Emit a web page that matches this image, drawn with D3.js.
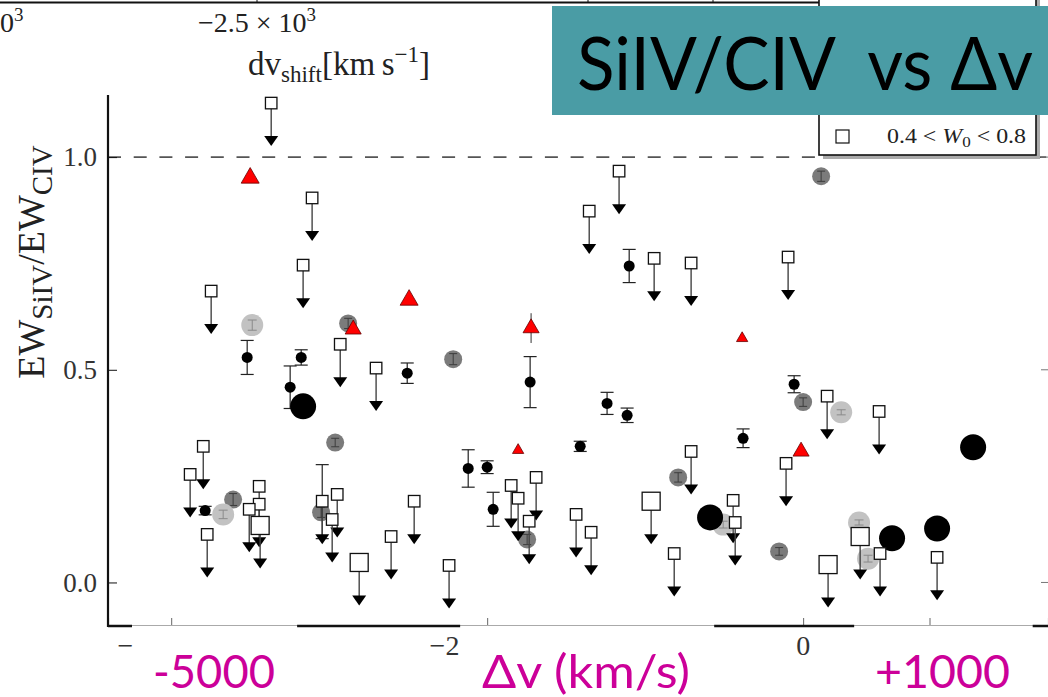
<!DOCTYPE html>
<html>
<head>
<meta charset="utf-8">
<script src="https://cdn.jsdelivr.net/npm/d3@7"></script>
<style>
  body { margin: 0; background: #fff; }
  svg { display: block; }
</style>
</head>
<body>
<div id="chart"></div>
<script>
//Sizes
var width = 1048, height = 697;

//Axis ticks and labels (velocity in 10^3 km/s)
var xTicks = [-4, -2, 0, 0.8];
var xTickLabelPos = [-4.29, -2.27, 0];
var xTickLabelText = ["\u2212", "\u22122", "0"];
var yTicks = [0, 0.5, 1.0];

//Upper limits, small open squares
var limX = [-3.367, -3.108, -3.165, -3.747, -2.930, -2.703, -1.165, -1.354, -0.943, -0.709,
            -0.095, 0.152, 0.481, -0.443, -0.430, -0.108, 0.487, 0.848, -3.797, -3.880,
            -3.772, -3.443, -3.443, -3.506, -3.044, -2.949, -2.981, -2.608, -2.462, -2.241,
            -1.848, -1.690, -1.804, -1.734, -1.437, -1.342, -0.816, -0.709];
var limY = [1.127, 0.904, 0.746, 0.685, 0.560, 0.504, 0.967, 0.873, 0.762, 0.751,
            0.765, 0.438, 0.402, 0.193, 0.141, 0.280, 0.068, 0.059, 0.320, 0.254,
            0.113, 0.226, 0.184, 0.172, 0.191, 0.207, 0.148, 0.108, 0.191, 0.040,
            0.228, 0.247, 0.198, 0.144, 0.160, 0.118, 0.068, 0.308];
//Upper limits, large open squares
var limBigX = [-3.437, -2.810, -0.962, 0.158, 0.361];
var limBigY = [0.134, 0.047, 0.191, 0.042, 0.108];

//Detections, small black points with errors
var detX = [-3.519, -3.177, -3.247, -2.506, -1.728, -1.101, -1.241, -1.114, -1.411, -2.120,
            -2.000, -1.962, -0.057, -0.380, -3.785, -3.044];
var detY = [0.529, 0.529, 0.459, 0.492, 0.471, 0.744, 0.421, 0.393, 0.320, 0.268,
            0.271, 0.172, 0.466, 0.339, 0.169, 0.190];
var detErr = [0.040, 0.018, 0.050, 0.024, 0.060, 0.039, 0.026, 0.017, 0.012, 0.044,
              0.015, 0.040, 0.020, 0.022, 0.010, 0.087];

//Large black points
var bigX = [-3.165, -0.589, 0.563, 0.848, 1.076];
var bigY = [0.414, 0.153, 0.104, 0.127, 0.318];

//Grey points
var grayX = [-2.880, -2.215, -2.962, -3.608, -3.051, -1.747, -0.791, 0.000, -0.152, 0.114];
var grayY = [0.609, 0.525, 0.329, 0.195, 0.165, 0.101, 0.247, 0.424, 0.073, 0.955];
var grayErr = [0.012, 0.013, 0.010, 0.014, 0.012, 0.012, 0.011, 0.010, 0.009, 0.012];

//Light grey points
var lgrayX = [-3.487, -3.671, 0.241, -0.506, 0.354, 0.411];
var lgrayY = [0.605, 0.160, 0.400, 0.136, 0.141, 0.056];
var lgrayErr = [0.012, 0.010, 0.006, 0.008, 0.006, 0.008];

//Red triangles (bin: 0 small, 1 medium, 2 large)
var triX = [-3.500, -2.494, -2.848, -1.722, -0.386, -1.804, -0.013];
var triY = [0.951, 0.664, 0.595, 0.598, 0.574, 0.311, 0.308];
var triBin = [2, 2, 1, 1, 0, 0, 1];
var triErr = [0, 0, 0, 0.035, 0, 0, 0];

var svg = d3.select("#chart").append("svg")
  .attr("width", width).attr("height", height);

var x = d3.scaleLinear().domain([-4.4, 1.55]).range([108, 1048]);
var y = d3.scaleLinear().domain([-0.1, 1.146]).range([625, 95]);
var triSize = d3.scaleOrdinal().domain([0, 1, 2]).range([55, 112, 140]);

var serif = "'Liberation Serif', 'DejaVu Serif', serif";
var sans = "Lato, 'Open Sans', sans-serif";

//Fragment of the panel above
svg.append("line").attr("x1", 0).attr("x2", 838).attr("y1", 2.5).attr("y2", 2.5)
  .attr("stroke", "#111").attr("stroke-width", 2);
[257, 588, 713].forEach(function(px) {
  svg.append("line").attr("x1", px).attr("x2", px).attr("y1", 0).attr("y2", 3)
    .attr("stroke", "#111").attr("stroke-width", 1);
});
svg.append("text").attr("x", 0).attr("y", 32)
  .style("font-family", serif).style("font-size", "28px").attr("fill", "#222")
  .html('0<tspan dy="-11" font-size="19">3</tspan>');
svg.append("text").attr("x", 198).attr("y", 32)
  .style("font-family", serif).style("font-size", "28px").attr("fill", "#222")
  .html('\u22122.5 \u00d7 10<tspan dy="-11" font-size="19">3</tspan>');
svg.append("text").attr("x", 248).attr("y", 75)
  .style("font-family", serif).style("font-size", "33px").attr("fill", "#222")
  .html('dv<tspan dy="7" font-size="23">shift</tspan><tspan dy="-7">[km\u2009s</tspan><tspan dy="-13" font-size="23">\u22121</tspan><tspan dy="13">]</tspan>');

//Dashed line at ratio 1
svg.append("line")
  .attr("x1", x(-4.4)).attr("x2", x(1.55))
  .attr("y1", y(1)).attr("y2", y(1))
  .attr("stroke", "#555").attr("stroke-width", 1.6)
  .attr("stroke-dasharray", "13,12.7");

//Bottom axis line: thin grey with thick black pieces
var xAxisG = svg.append("g").attr("transform", "translate(0," + y(-0.1) + ")");
xAxisG.call(d3.axisBottom(x).tickValues(xTicks).tickSize(-7).tickFormat(""))
  .call(function(g) { g.select(".domain").attr("stroke", "#aaa").attr("stroke-width", 1.2); })
  .call(function(g) { g.selectAll(".tick line").attr("stroke", "#666"); });
var blackPieces = [[-4.4, -4.248], [-3.203, -2.171], [-0.563, 0.323], [1.453, 1.55]];
svg.append("g").selectAll("line").data(blackPieces).enter().append("line")
  .attr("x1", function(d) { return x(d[0]); })
  .attr("x2", function(d) { return x(d[1]); })
  .attr("y1", y(-0.1) + 1).attr("y2", y(-0.1) + 1)
  .attr("stroke", "#111").attr("stroke-width", 2.5);
svg.append("g").selectAll("text").data(xTickLabelPos).enter().append("text")
  .attr("x", function(d) { return x(d); })
  .attr("y", 655)
  .attr("text-anchor", "middle")
  .style("font-family", serif).style("font-size", "28px").attr("fill", "#333")
  .text(function(d, i) { return xTickLabelText[i]; });

//Left axis
var yAxisG = svg.append("g").attr("transform", "translate(" + x(-4.4) + ",0)");
yAxisG.call(d3.axisLeft(y).tickValues(yTicks).tickSize(-9).tickPadding(11)
    .tickFormat(d3.format(".1f")))
  .call(function(g) { g.select(".domain").remove(); })
  .call(function(g) { g.selectAll(".tick line").attr("stroke", "#111"); })
  .call(function(g) {
    g.selectAll(".tick text").style("font-family", serif)
      .style("font-size", "27px").attr("fill", "#333");
  });
svg.append("line").attr("x1", x(-4.4)).attr("x2", x(-4.4))
  .attr("y1", y(1.146)).attr("y2", y(-0.1) + 2)
  .attr("stroke", "#111").attr("stroke-width", 2.2);
//Right side ticks
svg.append("g").selectAll("line").data(yTicks).enter().append("line")
  .attr("x1", 1041).attr("x2", 1048)
  .attr("y1", function(d) { return y(d); }).attr("y2", function(d) { return y(d); })
  .attr("stroke", "#777");

svg.append("text")
  .attr("transform", "translate(44,262) rotate(-90)")
  .attr("text-anchor", "middle")
  .style("font-family", serif).style("font-size", "38px").attr("fill", "#222")
  .html('EW<tspan dy="8" font-size="29">SiIV</tspan><tspan dy="-8">/EW</tspan><tspan dy="8" font-size="29">CIV</tspan>');

//Error bar helper
function errBar(g, cx, cy, e, cap, color, w) {
  g.append("line").attr("x1", cx).attr("x2", cx)
    .attr("y1", y(cy - e)).attr("y2", y(cy + e))
    .attr("stroke", color).attr("stroke-width", w);
  [cy - e, cy + e].forEach(function(v) {
    g.append("line").attr("x1", cx - cap / 2).attr("x2", cx + cap / 2)
      .attr("y1", y(v)).attr("y2", y(v))
      .attr("stroke", color).attr("stroke-width", w);
  });
}

var plot = svg.append("g");

//Grey points
grayX.forEach(function(v, i) {
  plot.append("circle").attr("cx", x(v)).attr("cy", y(grayY[i])).attr("r", 9)
    .attr("fill", "#7b7b7b");
  errBar(plot, x(v), grayY[i], grayErr[i], 8, "#3d3d3d", 1);
});
//Light grey points
lgrayX.forEach(function(v, i) {
  plot.append("circle").attr("cx", x(v)).attr("cy", y(lgrayY[i])).attr("r", 11)
    .attr("fill", "#c2c2c2");
  errBar(plot, x(v), lgrayY[i], lgrayErr[i], 9, "#8a8a8a", 1);
});
//Small black detections
detX.forEach(function(v, i) {
  errBar(plot, x(v), detY[i], detErr[i], 13, "#222", 1.2);
  plot.append("circle").attr("cx", x(v)).attr("cy", y(detY[i])).attr("r", 5.5)
    .attr("fill", "#000");
});
//Large black points
bigX.forEach(function(v, i) {
  plot.append("circle").attr("cx", x(v)).attr("cy", y(bigY[i])).attr("r", 13)
    .attr("fill", "#000");
});
//Red triangles
triX.forEach(function(v, i) {
  if (triErr[i] > 0) errBar(plot, x(v), triY[i], triErr[i], 0, "#333", 1);
  plot.append("path")
    .attr("d", d3.symbol().type(d3.symbolTriangle).size(triSize(triBin[i]))())
    .attr("transform", "translate(" + x(v) + "," + y(triY[i]) + ")")
    .attr("fill", "#ff0000").attr("stroke", "#600").attr("stroke-width", 0.8);
});

//Upper limits: line + arrow head, then the square
function drawLimit(v, val, side) {
  var cx = x(v), cy = y(val), tip = cy + 43;
  plot.append("line").attr("x1", cx).attr("x2", cx).attr("y1", cy).attr("y2", tip - 6)
    .attr("stroke", "#444").attr("stroke-width", 1.4);
  plot.append("path")
    .attr("d", "M" + (cx - 7) + "," + (tip - 10) + "L" + (cx + 7) + "," + (tip - 10) + "L" + cx + "," + tip + "Z")
    .attr("fill", "#000");
  plot.append("rect").attr("x", cx - side / 2).attr("y", cy - side / 2)
    .attr("width", side).attr("height", side)
    .attr("fill", "#fff").attr("stroke", "#111").attr("stroke-width", 1.3);
}
limX.forEach(function(v, i) { drawLimit(v, limY[i], 11.5); });
limBigX.forEach(function(v, i) { drawLimit(v, limBigY[i], 18); });

//Legend box (partly hidden by the title box)
svg.append("rect").attr("x", 823).attr("y", -6).attr("width", 217).attr("height", 165)
  .attr("fill", "#aaa");
svg.append("rect").attr("x", 819).attr("y", -10).attr("width", 217).attr("height", 165)
  .attr("fill", "#fff").attr("stroke", "#111").attr("stroke-width", 1.6);
svg.append("rect").attr("x", 836).attr("y", 130).attr("width", 13).attr("height", 13)
  .attr("fill", "#fff").attr("stroke", "#111").attr("stroke-width", 1.2);
svg.append("text").attr("x", 887).attr("y", 143)
  .attr("textLength", 139).attr("lengthAdjust", "spacingAndGlyphs")
  .style("font-family", serif).style("font-size", "21px").attr("fill", "#222")
  .html('0.4 &lt; <tspan font-style="italic">W</tspan><tspan dy="4" font-size="15">0</tspan><tspan dy="-4"> &lt; 0.8</tspan>');

//Title box
svg.append("rect").attr("x", 552).attr("y", 6).attr("width", 496).attr("height", 109)
  .attr("fill", "#4a9ca5");
svg.append("text").attr("x", 577).attr("y", 90)
  .attr("textLength", 456).attr("lengthAdjust", "spacingAndGlyphs")
  .style("font-family", sans).style("font-size", "73px").attr("fill", "#000")
  .text("SiIV/CIV\u00a0\u00a0vs \u0394v");

//Magenta annotations
var magenta = "#cc0099";
[["-5000", 153, 122], ["\u0394v (km/s)", 482, 208], ["+1000", 875, 135]].forEach(function(d) {
  svg.append("text").attr("x", d[1]).attr("y", 688)
    .attr("textLength", d[2]).attr("lengthAdjust", "spacingAndGlyphs")
    .style("font-family", sans).style("font-size", "47px").attr("fill", magenta)
    .text(d[0]);
});
</script>
</body>
</html>
